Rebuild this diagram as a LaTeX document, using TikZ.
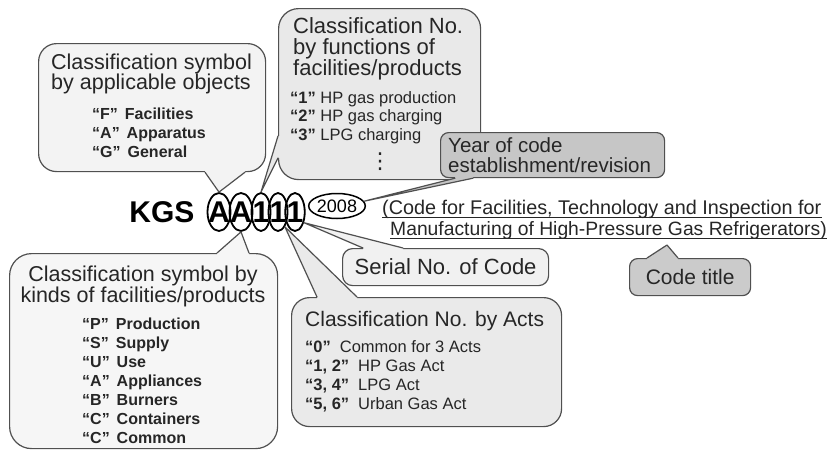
\documentclass[tikz,border=0pt]{standalone}
\usepackage{fontspec}
\setmainfont{Liberation Sans}
\newfontfamily\dejavu{DejaVu Sans}
\usetikzlibrary{shapes.geometric,calc}
\definecolor{bord}{HTML}{505050}
\definecolor{txt}{HTML}{262626}
\definecolor{fA}{HTML}{F3F3F3}
\definecolor{fB}{HTML}{E9E9E9}
\definecolor{fC}{HTML}{C6C6C6}
\definecolor{fD}{HTML}{F1F1F1}
\definecolor{fE}{HTML}{CBCBCB}
\definecolor{fF}{HTML}{EAEAEA}
\definecolor{fG}{HTML}{F6F6F6}
% #1 fill, #2 base point 1, #3 tip, #4 base point 2, #5 inward shift
\newcommand\calltail[5]{%
  \fill[#1] (#2) -- (#3) -- (#4) -- ($(#4)+#5$) -- ($(#2)+#5$) -- cycle;
  \draw[tailline] (#2) -- (#3) -- (#4);}
\begin{document}
\begin{tikzpicture}[x=1pt,y=-1pt,
  bx/.style={draw=bord, line width=1.2pt, inner sep=0pt, anchor=north west, rectangle},
  tailline/.style={draw=bord, line width=1.2pt, line join=round, line cap=round},
  hd/.style={font=\fontsize{21.5}{21}\selectfont, text=txt, inner sep=0pt, anchor=base west},
  ib/.style={font=\bfseries\fontsize{16}{19}\selectfont, text=txt, inner sep=0pt, anchor=base west},
  ir/.style={font=\fontsize{16.5}{19}\selectfont, text=txt, inner sep=0pt, anchor=base west},
  ell/.style={draw=black, line width=1.8pt, ellipse, inner sep=0pt, minimum height=38pt},
  big/.style={font=\bfseries\fontsize{30}{30}\selectfont, inner sep=0pt, text=black},
  ttl/.style={text=txt, inner sep=0pt, anchor=base west},
  ul/.style={draw=txt, line width=0.9pt}
]
\useasboundingbox (0,0) rectangle (832,450);
\fill[white] (0,0) rectangle (832,450);

% ---- code letters ----
\node[big] (kgs) at (162,212) {KGS};
\node[ell, minimum width=23pt] (eA1) at (219,212) {};
\node[ell, minimum width=23pt] (eA2) at (241,212) {};
\node[ell, minimum width=19pt] (e1a) at (261,212) {};
\node[ell, minimum width=19pt] (e1b) at (278,212) {};
\node[ell, minimum width=19.5pt] (e1c) at (295,212) {};
\node[big] (lA1) at (eA1) {A};
\node[big] (lA2) at (eA2) {A};
\node[big] (l1a) at (e1a) {1};
\node[big] (l1b) at (e1b) {1};
\node[big] (l1c) at (e1c) {1};
\node[ell, minimum width=56pt, minimum height=25pt, line width=1.5pt,
      font=\fontsize{18}{18}\selectfont] (y2008) at (337,206) {2008};

% ---- code title text ----
\node[ttl, font=\fontsize{19.8}{21}\selectfont] (t1) at (382,214)
  {(Code for Facilities, Technology and Inspection for};
\node[ttl, font=\fontsize{19.3}{21}\selectfont] (t2) at (390,235)
  {Manufacturing of High-Pressure Gas Refrigerators)};
\draw[ul] ([yshift=-3pt]t1.base west) -- ([yshift=-3pt]t1.base east);
\draw[ul] ([yshift=-3pt]t2.base west) -- ([yshift=-3pt]t2.base east);

% ---- top-left bubble ----
\node[bx, fill=fA, rounded corners=18pt, minimum width=227pt, minimum height=128pt] (tlb) at (38,43) {};
\coordinate (tla) at ($(tlb.south west)+(167,0)$);
\coordinate (tlc) at ($(tlb.south west)+(207,0)$);
\calltail{fA}{tla}{eA1.north}{tlc}{(0,-2)}
\node[hd] (tlh1) at (51,69) {Classification symbol};
\node[hd] (tlh2) at (51,89) {by applicable objects};
\node[ib] (tli1) at (92,119) {“F”\hspace{7pt}Facilities};
\node[ib] (tli2) at (92,138) {“A”\hspace{7pt}Apparatus};
\node[ib] (tli3) at (92,157) {“G”\hspace{7pt}General};

% ---- top-centre bubble ----
\node[bx, fill=fB, rounded corners=20pt, minimum width=202pt, minimum height=171pt] (tcb) at (278,8) {};
\coordinate (tca) at ($(tcb.north west)+(0,128)$);
\coordinate (tcc) at ($(tcb.north west)+(0,150)$);
\calltail{fB}{tca}{e1a.north}{tcc}{(2,0)}
\node[hd, font=\fontsize{22}{21}\selectfont] (tch1) at (293,33) {Classification No.};
\node[hd, font=\fontsize{22}{21}\selectfont] (tch2) at (293,54) {by functions of};
\node[hd, font=\fontsize{22}{21}\selectfont] (tch3) at (293,75) {facilities/products};
\node[ir] (tci1) at (290,103) {\textbf{“1”} HP gas production};
\node[ir] (tci2) at (290,121) {\textbf{“2”} HP gas charging};
\node[ir] (tci3) at (290,140) {\textbf{“3”} LPG charging};
\node[font=\dejavu\fontsize{22}{22}\selectfont, inner sep=0pt, text=txt] (tcdots) at (380,162) {⋮};

% ---- year bubble ----
\node[bx, fill=fC, rounded corners=8pt, minimum width=224pt, minimum height=45pt] (yrb) at (440,132) {};
\coordinate (yra) at ($(yrb.south west)+(15,0)$);
\coordinate (yrc) at ($(yrb.south west)+(33,0)$);
\calltail{fC}{yra}{y2008.10}{yrc}{(0,-2)}
\node[hd, font=\fontsize{20.5}{18}\selectfont] (yrt1) at (448,152) {Year of code};
\node[hd, font=\fontsize{20.5}{18}\selectfont] (yrt2) at (448,172) {establishment/revision};

% ---- serial bubble ----
\node[bx, fill=fD, rounded corners=10pt, minimum width=206pt, minimum height=37pt] (srb) at (342,248) {};
\coordinate (sra) at ($(srb.north west)+(21,0)$);
\coordinate (src) at ($(srb.north west)+(61,0)$);
\calltail{fD}{sra}{e1c.-50}{src}{(0,2)}
\node[font=\fontsize{22}{22}\selectfont, text=txt, inner sep=0pt] (srt) at (srb.center) {Serial No. of Code};

% ---- acts bubble ----
\node[bx, fill=fF, rounded corners=18pt, minimum width=270pt, minimum height=129pt] (acb) at (291,297) {};
\coordinate (aca) at ($(acb.north west)+(26,0)$);
\coordinate (acc) at ($(acb.north west)+(66,0)$);
\calltail{fF}{aca}{e1b.-65}{acc}{(0,2)}
\node[hd, font=\fontsize{21}{21}\selectfont] (ach) at (305,326) {Classification No. by Acts};
\node[ir] (aci1) at (305,352) {\textbf{“0”}\hspace{9pt}Common for 3 Acts};
\node[ir] (aci2) at (305,371) {\textbf{“1, 2”}\hspace{9pt}HP Gas Act};
\node[ir] (aci3) at (305,390) {\textbf{“3, 4”}\hspace{9pt}LPG Act};
\node[ir] (aci4) at (305,409) {\textbf{“5, 6”}\hspace{9pt}Urban Gas Act};

% ---- bottom-left bubble ----
\node[bx, fill=fG, rounded corners=22pt, minimum width=268pt, minimum height=195pt] (blb) at (9,253) {};
\coordinate (bla) at ($(blb.north west)+(208,0)$);
\coordinate (blc) at ($(blb.north west)+(240,0)$);
\calltail{fG}{bla}{eA2.south}{blc}{(0,2)}
\node[hd, anchor=base] (blh1) at (143,281) {Classification symbol by};
\node[hd, anchor=base] (blh2) at (143,302) {kinds of facilities/products};
\node[ib] (bli1) at (82,329) {“P”\hspace{7pt}Production};
\node[ib] (bli2) at (82,348) {“S”\hspace{7pt}Supply};
\node[ib] (bli3) at (82,367) {“U”\hspace{7pt}Use};
\node[ib] (bli4) at (82,386) {“A”\hspace{7pt}Appliances};
\node[ib] (bli5) at (82,405) {“B”\hspace{7pt}Burners};
\node[ib] (bli6) at (82,424) {“C”\hspace{7pt}Containers};
\node[ib] (bli7) at (82,443) {“C”\hspace{7pt}Common};

% ---- code title bubble ----
\node[bx, fill=fE, rounded corners=8pt, minimum width=121pt, minimum height=37pt] (ctb) at (629,258) {};
\coordinate (cttip) at ($(t2.base west)+(277,10)$);
\coordinate (cta) at ($(ctb.north west)+(18,0)$);
\coordinate (ctc) at ($(ctb.north west)+(49,0)$);
\calltail{fE}{cta}{cttip}{ctc}{(0,2)}
\node[font=\fontsize{21}{21}\selectfont, text=txt, inner sep=0pt] (ctt) at (ctb.center) {Code title};
\end{tikzpicture}
\end{document}
